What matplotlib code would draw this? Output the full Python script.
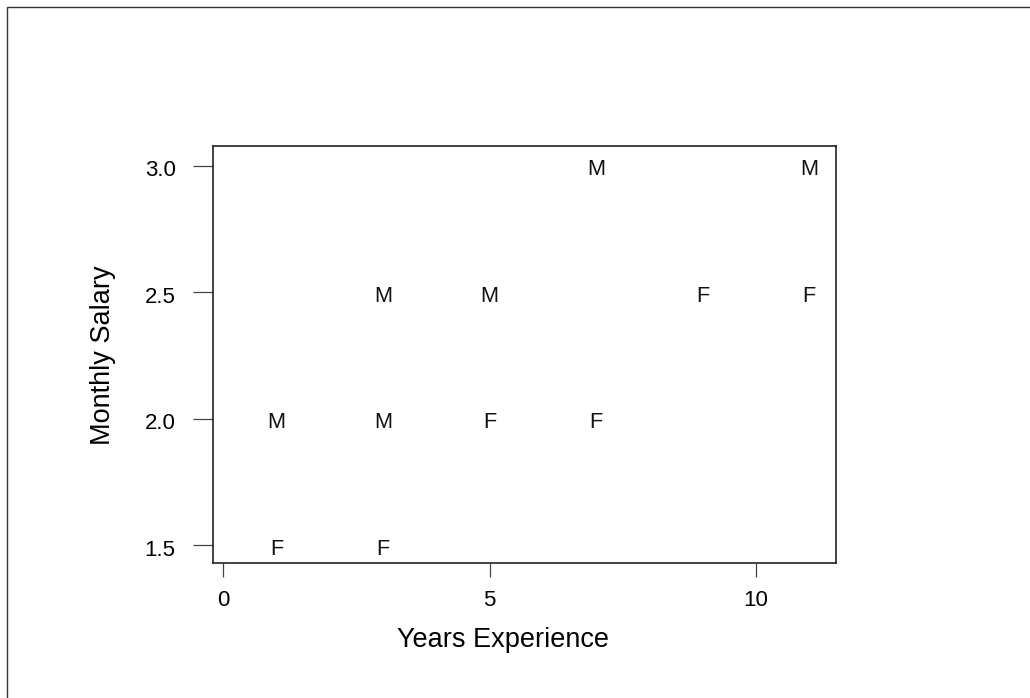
import matplotlib

matplotlib.use("Agg")
import matplotlib.pyplot as plt
from matplotlib.patches import Rectangle
from matplotlib.transforms import offset_copy, ScaledTranslation

plt.rcParams["font.family"] = ["Liberation Sans", "DejaVu Sans"]

# data
years = [7, 11, 3, 5, 1, 3, 9, 11, 5, 7, 1, 3]
salary = [3.0, 3.0, 2.5, 2.5, 2.0, 2.0, 2.5, 2.5, 2.0, 2.0, 1.5, 1.5]
sex = ["M", "M", "M", "M", "M", "M", "F", "F", "F", "F", "F", "F"]
x_ticks = [0, 5, 10]
y_ticks = [1.5, 2.0, 2.5, 3.0]

W, H = 1030, 698
fig = plt.figure(figsize=(W / 100, H / 100), dpi=100)

# outer frame (left/top edges visible in the reference)
fig.add_artist(Rectangle((6.5 / W, -0.1), 1.2, 1 - 7 / H + 0.1,
                         transform=fig.transFigure, fill=False,
                         edgecolor="#333333", linewidth=1.0))

left, right, top, bottom = 213, 835.7, 146, 562.7
ax = fig.add_axes([left / W, 1 - bottom / H, (right - left) / W, (bottom - top) / H])

# letters sit with their baseline a little below the data value (R-style centering)
letter_tr = offset_copy(ax.transData, fig=fig, x=0, y=-9.7, units="dots")
for x, y, s in zip(years, salary, sex):
    ax.text(x, y, s, ha="center", va="baseline", fontsize=15.7,
            color="#111111", transform=letter_tr)

ax.set_xlim(-0.193, 11.5)
ax.set_ylim(1.430, 3.078)
ax.set_xticks(x_ticks)
ax.set_yticks(y_ticks)
ax.set_yticklabels([f"{v:.1f}" for v in y_ticks])

for sp in ax.spines.values():
    sp.set_color("#222222")
    sp.set_linewidth(1.2)

ax.tick_params(axis="x", length=10, width=0.9, pad=10, labelsize=16, color="#444444")
ax.tick_params(axis="y", length=14.4, width=0.9, pad=12.5, labelsize=16, color="#444444")
shift = ScaledTranslation(0, -2.5 / 100, fig.dpi_scale_trans)
for lbl in ax.get_yticklabels():
    lbl.set_verticalalignment("center_baseline")
    lbl.set_transform(lbl.get_transform() + shift)

fig.text(503 / W, 1 - 647 / H, "Years Experience", ha="center", va="baseline", fontsize=19.5)
fig.text(103 / W, 1 - 355 / H, "Monthly Salary", ha="center", va="center",
         rotation=90, fontsize=19.5)

fig.savefig("out.png", dpi=100)
